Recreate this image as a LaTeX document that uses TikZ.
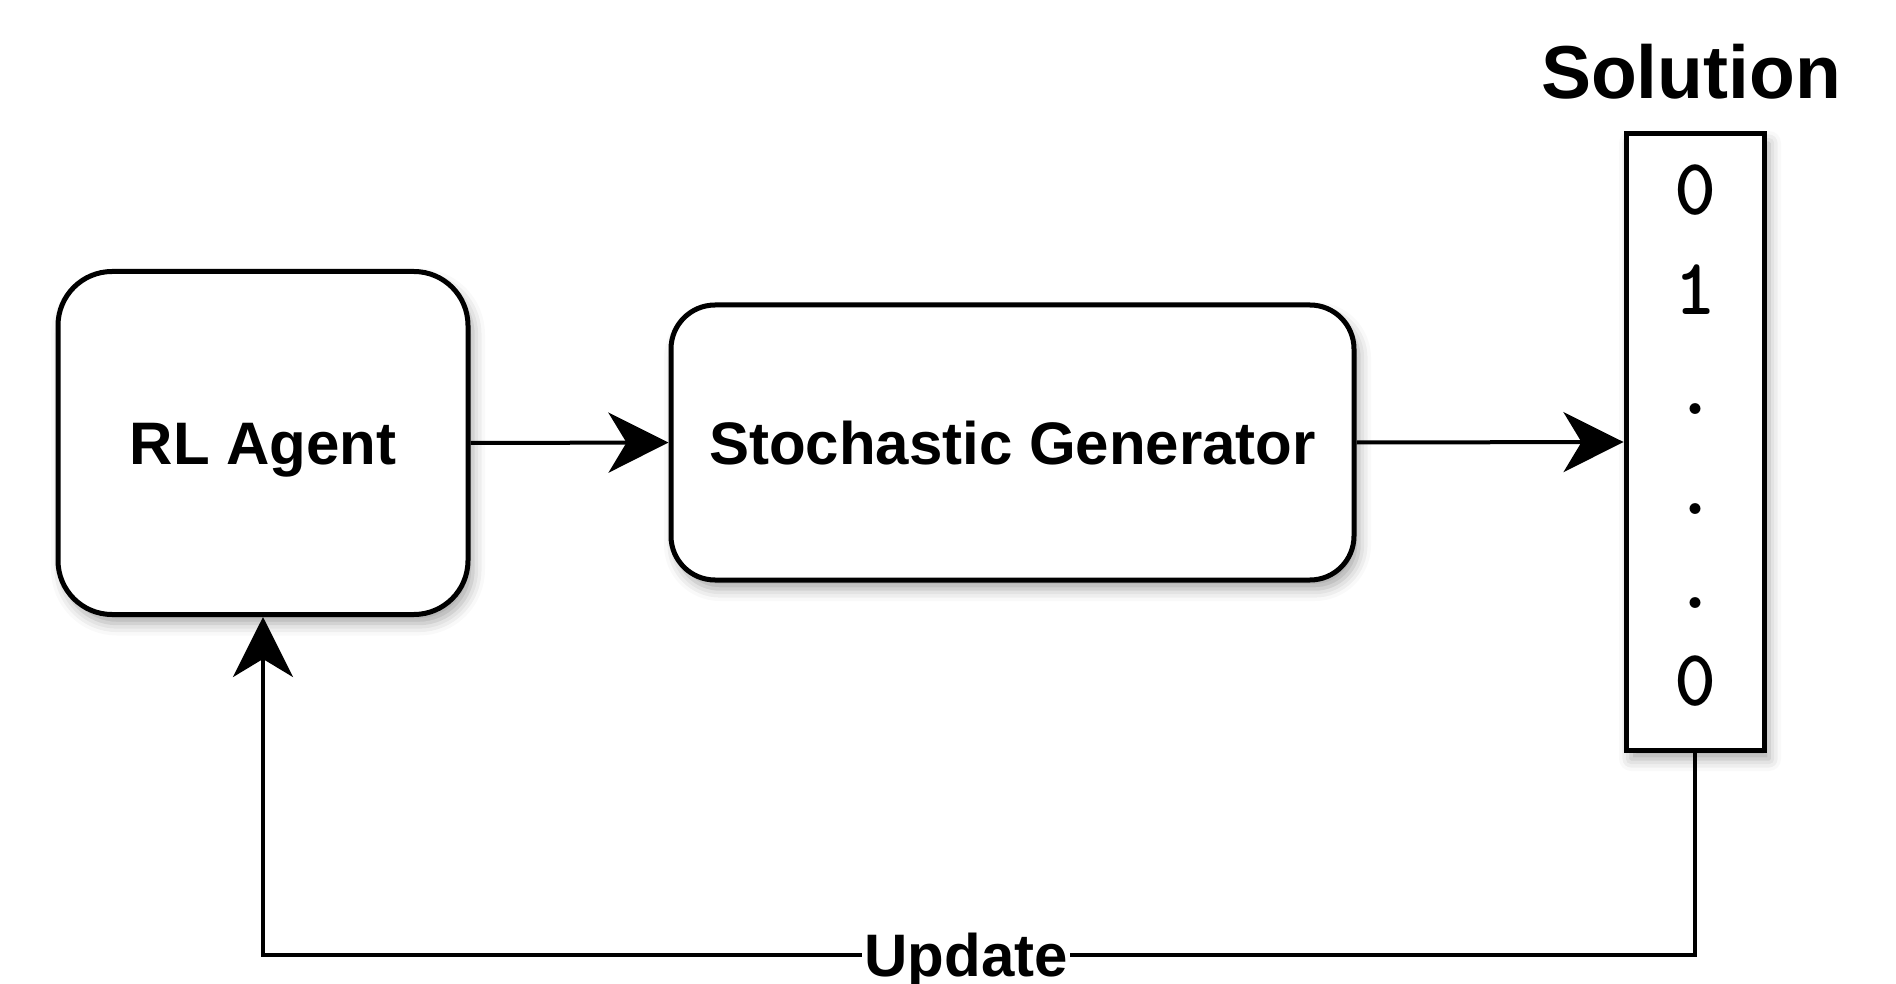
\documentclass[tikz,border=0pt]{standalone}
\usepackage{fontspec}
\setmainfont{Liberation Sans}
\usetikzlibrary{arrows.meta,shadows.blur}
\begin{document}
\begin{tikzpicture}[x=1pt,y=-1pt,
  shad/.style={blur shadow={shadow xshift=5pt, shadow yshift=-9pt, shadow blur radius=12pt, shadow opacity=35}},
  rbox/.style={draw=black, line width=5pt, fill=white, rounded corners=#1, shad,
    font=\fontsize{60pt}{72pt}\selectfont\bfseries, text height=43pt, text depth=0pt},
  solbox/.style={draw=black, line width=5pt, fill=white, shad},
  digit/.style={font=\ttfamily\bfseries\fontsize{80pt}{96pt}\selectfont, anchor=base, inner sep=0pt},
  conn/.style={draw=black, line width=4pt, -{Stealth[length=60pt, width=60pt, inset=18pt]}},
  lbl/.style={fill=white, font=\fontsize{60pt}{72pt}\selectfont\bfseries, text height=43pt, text depth=0pt, inner xsep=2pt, inner ysep=6pt}
]
\useasboundingbox (0,0) rectangle (1896,984);
\node[rbox=54pt, minimum width=410pt, minimum height=343pt] (rl) at (263,443) {RL Agent};
\node[rbox=44pt, minimum width=683pt, minimum height=275pt] (sg) at (1012.5,442.5) {Stochastic Generator};
\node[solbox, minimum width=138pt, minimum height=616pt] (sol) at (1695,442) {};
\node[font=\fontsize{75pt}{90pt}\selectfont\bfseries, anchor=base, inner sep=0pt] (soltitle) at (1691,99) {Solution};
\node[digit] (d1) at (1695,215) {0};
\node[digit] (d2) at (1695,315) {1};
\node[digit] (d3) at (1695,414) {.};
\node[digit] (d4) at (1695,514) {.};
\node[digit] (d5) at (1695,608) {.};
\node[digit] (d6) at (1695,705) {0};
\draw[conn] (rl.east) -- (sg.west);
\draw[conn] (sg.east) -- (sol.west);
\coordinate (c1) at (sol.south |- 0,955);
\coordinate (c2) at (rl.south |- 0,955);
\draw[conn] (sol.south) -- (c1) -- node[lbl, pos=0.509] (upd) {Update} (c2) -- (rl.south);
\end{tikzpicture}
\end{document}
